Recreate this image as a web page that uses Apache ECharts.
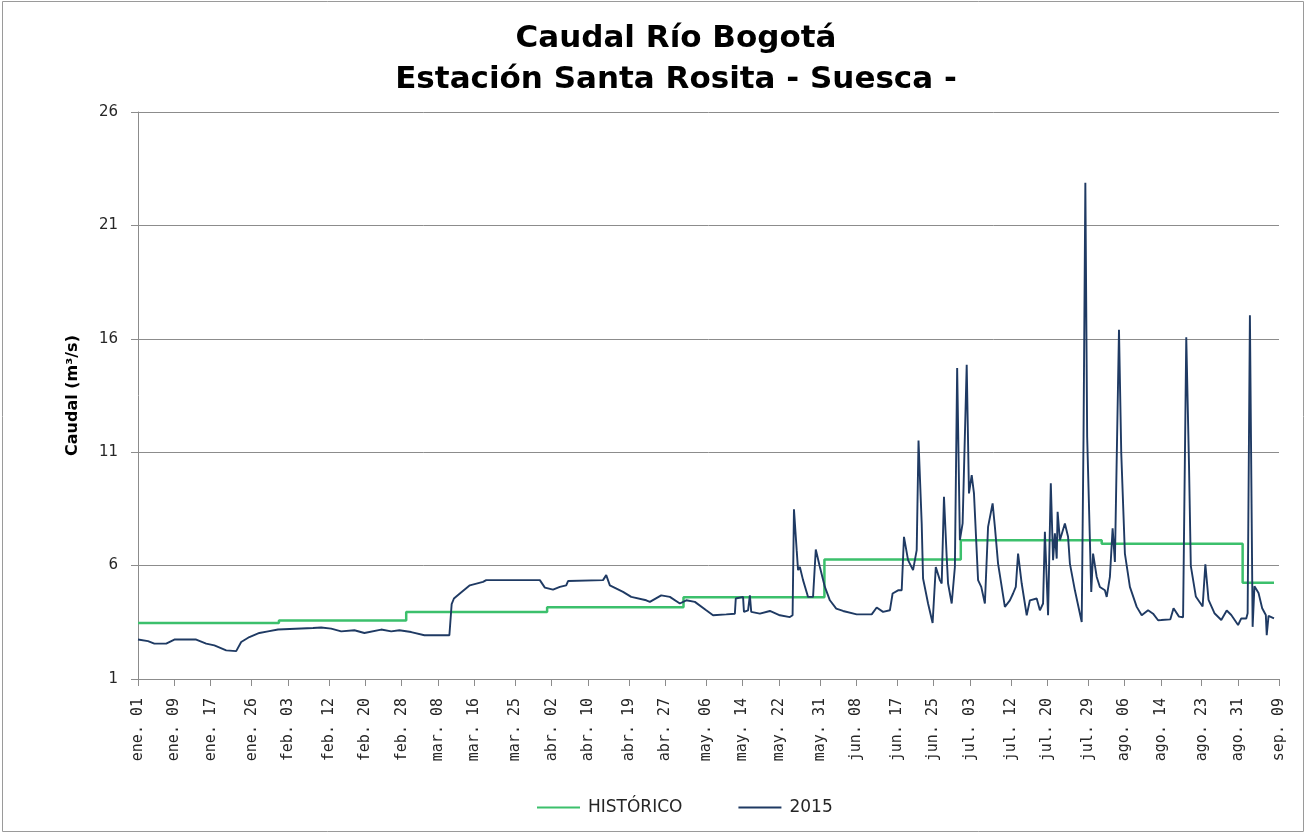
<!DOCTYPE html>
<html>
<head>
<meta charset="utf-8">
<script src="https://cdn.jsdelivr.net/npm/echarts@6/dist/echarts.min.js"></script>
<style>
  html, body { margin: 0; padding: 0; background: #fff; }
  #chart { width: 1309px; height: 835px; }
</style>
</head>
<body>
<div id="chart"></div>
<script>
// ---- Data (days counted from 1 Jan 2015 = 0) ----
const tickLabels = ['ene. 01','ene. 09','ene. 17','ene. 26','feb. 03','feb. 12','feb. 20','feb. 28','mar. 08','mar. 16','mar. 25','abr. 02','abr. 10','abr. 19','abr. 27','may. 06','may. 14','may. 22','may. 31','jun. 08','jun. 17','jun. 25','jul. 03','jul. 12','jul. 20','jul. 29','ago. 06','ago. 14','ago. 23','ago. 31','sep. 09'];
const tickDays = [0,8,16,25,33,42,50,58,66,74,83,91,99,108,116,125,133,141,150,158,167,175,183,192,200,209,217,225,234,242,251];
const yTicks = [1, 6, 11, 16, 21, 26];

// HISTÓRICO: monthly mean (value held from the month's first day)
const histDays   = [0, 31, 59, 90, 120, 151, 181, 212, 243, 249.9];
const histValues = [3.47, 3.58, 3.95, 4.16, 4.60, 6.27, 7.12, 6.96, 5.24, 5.24];

// 2015 observed flow
const days2015 = [
  0, 2.2, 3.6, 6.2, 8, 12.8, 15, 16.8, 19.4, 21.6, 22.7, 24.5, 26.7, 28.6, 30.8, 38.5, 40.3, 42.5, 44.7, 47.6,
  49.8, 53.5, 55.7, 57.5, 60.1, 63, 68.5, 69.0, 69.5, 70.8, 73.0, 75.9, 76.6, 88.4, 89.5, 91.3, 92.8, 94.2, 94.6, 102.3,
  103.0, 103.8, 106.7, 108.5, 111.8, 112.6, 115.1, 117.0, 119.2, 120.6, 122.5, 125.0, 126.5, 129.4, 131.3, 131.5, 133.1, 133.3, 134.2, 134.6,
  134.9, 136.8, 139.0, 141.2, 143.4, 144.0, 144.3, 144.9, 145.2, 145.6, 146.3, 147.4, 148.5, 149.1, 150.0, 151.1, 152.2, 153.6, 155.1, 158.1,
  161.4, 162.5, 163.9, 165.4, 166.0, 167.2, 168.0, 168.5, 169.4, 170.5, 171.3, 171.7, 172.4, 172.7, 173.8, 174.8, 175.5, 176.4, 176.8, 177.3,
  177.9, 178.2, 179.0, 179.7, 180.2, 180.8, 181.4, 182.3, 182.8, 183.4, 183.9, 184.8, 185.5, 186.3, 187.0, 188.0, 188.5, 189.2, 190.7, 191.8,
  192.5, 193.1, 193.6, 194.4, 195.5, 196.2, 197.7, 198.4, 199.1, 199.5, 200.2, 200.8, 201.3, 201.7, 202.1, 202.3, 202.8, 203.9, 204.6, 205.0,
  206.1, 207.6, 208.0, 208.4, 208.8, 209.7, 210.1, 210.9, 211.6, 212.7, 213.1, 213.8, 214.4, 214.9, 215.8, 216.3, 217.1, 218.2, 219.7, 220.8,
  222.2, 223.3, 224.4, 225.1, 227.1, 227.8, 229.0, 229.9, 230.6, 231.2, 231.6, 232.7, 234.2, 234.8, 235.5, 236.8, 238.3, 239.5, 240.5, 242.0,
  242.7, 243.8, 244.1, 244.6, 245.2, 245.6, 246.5, 247.3, 248.1, 248.3, 248.7, 249.9
];
const flow2015 = [
  2.74, 2.67, 2.56, 2.56, 2.74, 2.74, 2.56, 2.48, 2.26, 2.23, 2.63, 2.85, 3.03, 3.10, 3.18, 3.25, 3.27, 3.22, 3.10, 3.15,
  3.03, 3.18, 3.10, 3.15, 3.07, 2.93, 2.93, 4.30, 4.55, 4.77, 5.13, 5.28, 5.36, 5.36, 5.03, 4.94, 5.06, 5.13, 5.32, 5.36,
  5.58, 5.13, 4.84, 4.62, 4.47, 4.40, 4.69, 4.62, 4.33, 4.47, 4.40, 4.03, 3.81, 3.85, 3.88, 4.55, 4.62, 3.96, 4.03, 4.69,
  3.96, 3.88, 4.00, 3.81, 3.73, 3.81, 8.48, 6.68, 5.80, 5.94, 5.36, 4.62, 4.62, 6.71, 5.94, 5.06, 4.47, 4.10, 4.00, 3.85,
  3.85, 4.15, 3.96, 4.03, 4.77, 4.91, 4.91, 7.27, 6.24, 5.80, 6.68, 11.51, 7.86, 5.43, 4.33, 3.47, 5.94, 5.36, 5.21, 9.03,
  6.38, 5.21, 4.33, 5.94, 14.71, 7.12, 7.86, 14.85, 9.18, 9.99, 9.18, 5.36, 5.06, 4.33, 7.71, 8.74, 7.71, 6.09, 4.18, 4.47,
  4.77, 5.06, 6.53, 5.21, 3.81, 4.47, 4.55, 4.03, 4.33, 7.49, 3.81, 9.63, 6.24, 7.42, 6.31, 8.37, 7.12, 7.86, 7.27, 6.09,
  4.91, 3.51, 11.68, 22.88, 11.68, 4.84, 6.53, 5.50, 5.06, 4.91, 4.62, 5.50, 7.64, 6.16, 16.40, 10.95, 6.53, 5.06, 4.18, 3.81,
  4.03, 3.88, 3.59, 3.60, 3.63, 4.12, 3.75, 3.72, 16.07, 10.47, 5.99, 4.64, 4.20, 6.06, 4.49, 3.90, 3.60, 4.02, 3.82, 3.38,
  3.67, 3.67, 3.90, 17.04, 3.30, 5.09, 4.79, 4.12, 3.82, 2.93, 3.78, 3.67
];

const histData = histDays.map((d, i) => [d, histValues[i]]);
const data2015 = days2015.map((d, i) => [d, flow2015[i]]);

const chart = echarts.init(document.getElementById('chart'), null, { renderer: 'canvas' });
const gridColor = '#8c8c8c';
const textColor = '#262626';
const histColor = '#3cc06c';
const obsColor = '#1f3a63';

const option = {
  backgroundColor: '#ffffff',
  animation: false,
  title: {
    text: 'Caudal Río Bogotá\nEstación Santa Rosita - Suesca -',
    left: 671,
    top: 13,
    textAlign: 'center',
    textStyle: {
      fontFamily: 'DejaVu Sans',
      fontWeight: 'bold',
      fontSize: 31,
      lineHeight: 41,
      color: '#000000'
    }
  },
  legend: {
    left: 537,
    top: 799,
    padding: 0,
    itemWidth: 43,
    itemHeight: 2,
    itemGap: 56,
    textStyle: { fontFamily: 'DejaVu Sans', fontSize: 17, color: textColor, padding: [0, 0, 0, 3] },
    data: [
      { name: 'HISTÓRICO', icon: 'rect', itemStyle: { color: histColor } },
      { name: '2015', icon: 'rect', itemStyle: { color: obsColor } }
    ]
  },
  grid: { left: 138, right: 30, top: 112, bottom: 156 },
  xAxis: {
    type: 'value',
    min: 0,
    max: 251,
    axisLine: { show: true, lineStyle: { color: gridColor, width: 1 } },
    axisTick: { show: true, length: 7, customValues: tickDays, lineStyle: { color: gridColor } },
    axisLabel: {
      customValues: tickDays,
      rotate: 90,
      margin: 19,
      fontFamily: 'DejaVu Sans Mono',
      fontSize: 15,
      color: textColor,
      formatter: function (v) {
        const i = tickDays.indexOf(v);
        return i >= 0 ? tickLabels[i] : '';
      }
    },
    splitLine: { show: false }
  },
  yAxis: {
    type: 'value',
    min: 1,
    max: 26,
    name: 'Caudal (m³/s)',
    nameLocation: 'middle',
    nameGap: 57,
    nameRotate: 90,
    nameTextStyle: { fontFamily: 'DejaVu Sans', fontWeight: 'bold', fontSize: 16, color: '#000000' },
    axisLine: { show: true, lineStyle: { color: gridColor, width: 1 } },
    axisTick: { show: true, length: 7, customValues: yTicks, lineStyle: { color: gridColor } },
    axisLabel: { customValues: yTicks, margin: 20, fontFamily: 'DejaVu Sans', fontSize: 15, color: textColor },
    splitLine: { show: true, lineStyle: { color: gridColor, width: 1 } }
  },
  graphic: [{
    type: 'rect',
    shape: { x: 2.5, y: 1.5, width: 1301, height: 830 },
    style: { fill: 'none', stroke: '#9a9a9a', lineWidth: 1 },
    silent: true,
    z: -1
  }],
  series: [
    {
      name: 'HISTÓRICO',
      type: 'line',
      step: 'end',
      data: histData,
      symbol: 'none',
      lineStyle: { color: histColor, width: 2.5 },
      itemStyle: { color: histColor },
      z: 2
    },
    {
      name: '2015',
      type: 'line',
      data: data2015,
      symbol: 'none',
      lineStyle: { color: obsColor, width: 1.9 },
      itemStyle: { color: obsColor },
      z: 3
    }
  ]
};
chart.setOption(option);
</script>
</body>
</html>
